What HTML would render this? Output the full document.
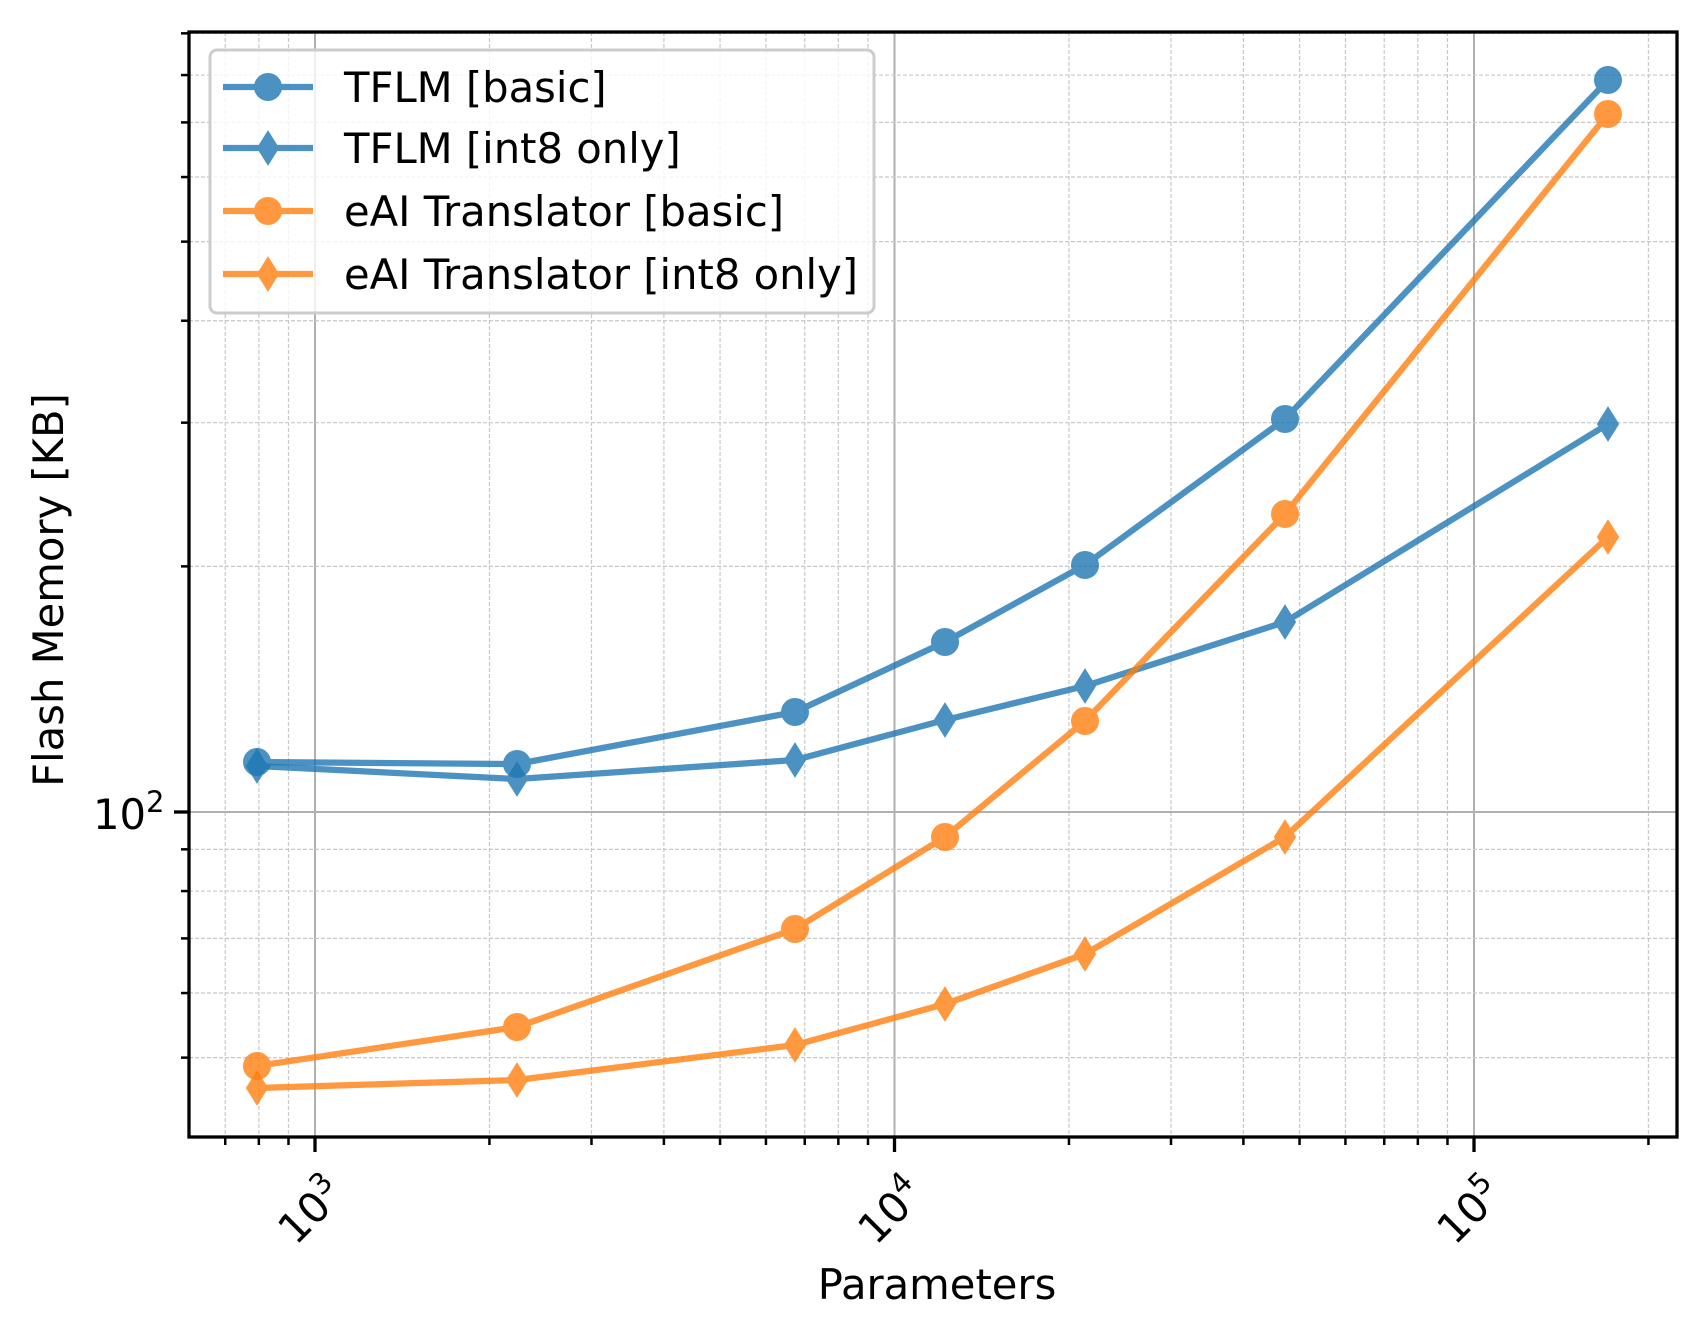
<!DOCTYPE html>
<html><head><meta charset="utf-8"><style>html,body{margin:0;padding:0;background:#fff}svg{display:block}</style></head>
<body>
<svg xmlns="http://www.w3.org/2000/svg" width="1706" height="1337" viewBox="0 0 1706 1337" font-family="'DejaVu Sans','Liberation Sans',sans-serif">
<rect width="1706" height="1337" fill="#fff"/>
<g id="grid"></g>
<g id="series"></g>
<rect x="189" y="32" width="1488" height="1105" fill="none" stroke="#000" stroke-width="3.3"/>
<g id="ticks" stroke="#000"></g>
<g font-size="41.7" fill="#000">
<text x="0" y="0" transform="translate(321,1221) rotate(-45)" text-anchor="middle">10<tspan font-size="29" dy="-17">3</tspan></text>
<text x="0" y="0" transform="translate(901,1221) rotate(-45)" text-anchor="middle">10<tspan font-size="29" dy="-17">4</tspan></text>
<text x="0" y="0" transform="translate(1480,1221) rotate(-45)" text-anchor="middle">10<tspan font-size="29" dy="-17">5</tspan></text>
<text x="93" y="829">10<tspan font-size="29" dy="-17">2</tspan></text>
<text x="937" y="1299" text-anchor="middle">Parameters</text>
<text x="0" y="0" transform="translate(63,590) rotate(-90)" text-anchor="middle">Flash Memory [KB]</text>
</g>
<g id="legend">
<rect x="210" y="50" width="664" height="263" rx="7" fill="#fff" fill-opacity="0.8" stroke="#ccc" stroke-width="3"/>
</g>
<script>
const ns="http://www.w3.org/2000/svg";
function el(p,t,a){const e=document.createElementNS(ns,t);for(const k in a)e.setAttribute(k,a[k]);p.appendChild(e);return e;}
const X=v=>315+579.5*(Math.log10(v)-3), Y=v=>812-816*(Math.log10(v)-2);
const g=document.getElementById('grid'), tk=document.getElementById('ticks');
for(let e=2;e<=5;e++)for(let k=1;k<10;k++){const v=k*Math.pow(10,e);const x=X(v);if(x<190||x>1676)continue;
 if(k==1){el(g,'line',{x1:x,x2:x,y1:32,y2:1137,stroke:'#b0b0b0','stroke-width':2});el(tk,'line',{x1:x,x2:x,y1:1137,y2:1152,'stroke-width':3.3});}
 else{el(g,'line',{x1:x,x2:x,y1:32,y2:1137,stroke:'#c8c8c8','stroke-width':1.2,'stroke-dasharray':'4,2'});el(tk,'line',{x1:x,x2:x,y1:1137,y2:1145,'stroke-width':2.5});}}
for(let e=1;e<=2;e++)for(let k=1;k<10;k++){const v=k*Math.pow(10,e);const y=Y(v);if(y<33||y>1136)continue;
 if(k==1){el(g,'line',{x1:189,x2:1677,y1:y,y2:y,stroke:'#b0b0b0','stroke-width':2});el(tk,'line',{x1:174,x2:189,y1:y,y2:y,'stroke-width':3.3});}
 else{el(g,'line',{x1:189,x2:1677,y1:y,y2:y,stroke:'#c8c8c8','stroke-width':1.2,'stroke-dasharray':'4,2'});el(tk,'line',{x1:181,x2:189,y1:y,y2:y,'stroke-width':2.5});}}
const xs=[257,517,795,945,1085,1285,1608];
const S=[
 {c:'#1f77b4',m:'o',y:[762,764,712,642,565,419,80]},
 {c:'#1f77b4',m:'d',y:[766,779,760,720,686,622,424]},
 {c:'#ff7f0e',m:'o',y:[1066,1027,929,837,721,514,114]},
 {c:'#ff7f0e',m:'d',y:[1088,1080,1045,1004,954,837,537]}];
const sg=document.getElementById('series');
function mk(p,m,x,y,c){if(m=='o')el(p,'circle',{cx:x,cy:y,r:13,fill:c,stroke:c,'stroke-width':2});
 else el(p,'polygon',{points:`${x},${y-16} ${x+10},${y} ${x},${y+16} ${x-10},${y}`,fill:c,stroke:c,'stroke-width':2,'stroke-linejoin':'miter'});}
S.forEach(s=>{const gg=el(sg,'g',{opacity:0.8});
 el(gg,'polyline',{points:xs.map((x,i)=>x+','+s.y[i]).join(' '),fill:'none',stroke:s.c,'stroke-width':6.25,'stroke-linejoin':'round','stroke-linecap':'square'});
 xs.forEach((x,i)=>mk(gg,s.m,x,s.y[i],s.c));});
const lg=document.getElementById('legend');
const names=['TFLM [basic]','TFLM [int8 only]','eAI Translator [basic]','eAI Translator [int8 only]'];
const ly=[87,148,211,274];
S.forEach((s,i)=>{const gg=el(lg,'g',{opacity:0.8});
 el(gg,'line',{x1:223,x2:313,y1:ly[i],y2:ly[i],stroke:s.c,'stroke-width':6.25});mk(gg,s.m,268,ly[i],s.c);
 const t=el(lg,'text',{x:344,y:ly[i]+15,'font-size':41.7,fill:'#000'});t.textContent=names[i];});
</script>
</svg>
</body></html>
